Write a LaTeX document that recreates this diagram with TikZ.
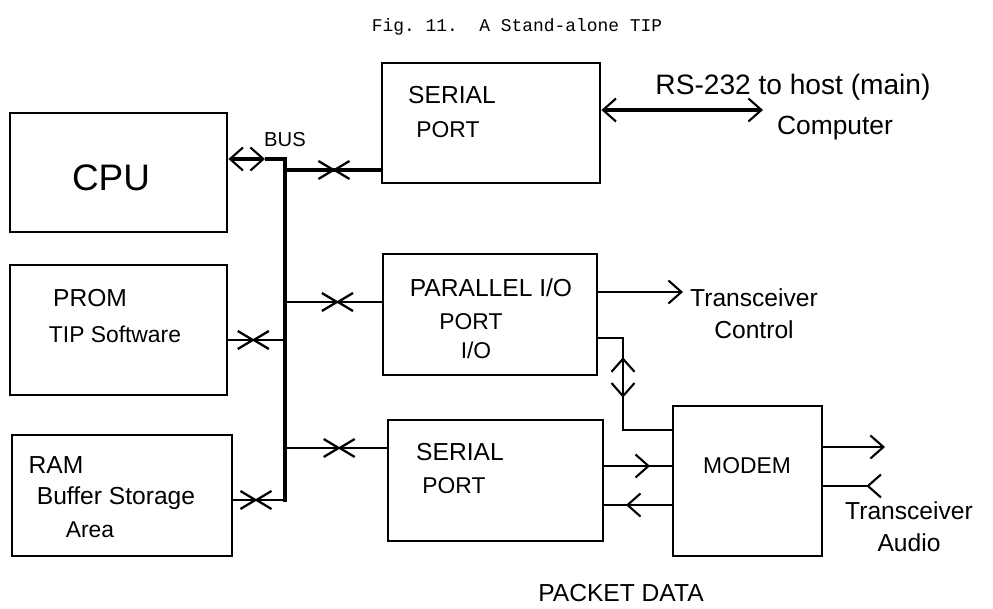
\documentclass[tikz,border=0pt]{standalone}
\usepackage{fontspec}
\setmainfont{Liberation Sans}
\setmonofont{Liberation Mono}
\usepackage{tikz}
\usetikzlibrary{positioning, calc, arrows.meta, decorations.markings}
\tikzset{
    base/.style={
        font=\fontsize{14}{18}\selectfont,
        align=center
    },
    block/.style={
        rectangle,
        draw,
        line width=1.6pt,
        inner sep=0pt
    },
    size/.style 2 args={
        minimum width=#1*0.2mm,
        minimum height=#2*0.2mm
    },
    label/.style={
        base,
        inner sep=1pt
    },
    flow/.style={
        ->,
        line width=1.2pt
    },
    bus/.style={
        line width=1.8pt
    },
    tap/.style={
        line width=1.3pt,
        postaction={decorate},
        decoration={markings,
            mark=at position #1 with {\arrow{Straight Barb[length=3mm,width=3.6mm,line width=1.3pt]}},
            mark=at position #1 with {\arrow[xshift=3mm]{Straight Barb[reversed,length=3mm,width=3.6mm,line width=1.3pt]}}
        }
    },
    tap/.default=0.5,
    midflow/.style={
        line width=1.2pt,
        postaction={decorate},
        decoration={markings,
            mark=at position #1 with {\arrow{>}}
        }
    }
}

\begin{document}
\begin{tikzpicture}[x=0.2mm, y=-0.2mm, >={Straight Barb[length=2.6mm,width=4.6mm,line width=1.2pt]}]
  \useasboundingbox (0,0) rectangle (993,609);

  % Title
  \node[font=\ttfamily\fontsize{10.2}{12}\selectfont] (title) at (517,27) {Fig.\ 11.\ \ A Stand-alone TIP};

  % Blocks
  \node[block, size={217}{119}] (cpu) at (118.5,172.5) {};
  \node[block, size={217}{130}] (prom) at (118.5,330) {};
  \node[block, size={220}{121}] (ram) at (122,495.5) {};
  \node[block, size={218}{120}] (serA) at (491,123) {};
  \node[block, size={214}{121}] (par) at (490,314.5) {};
  \node[block, size={215}{121}] (serB) at (495.5,480.5) {};
  \node[block, size={149}{150}] (modem) at (747.5,481) {};

  % Block texts
  \node[label, font=\fontsize{21}{24}\selectfont] (cpuTxt) at (111,178) {CPU};
  \node[label] (promTxt) at (90,298) {PROM};
  \node[label, font=\fontsize{13}{16}\selectfont] (promSub) at (115,334) {TIP Software};
  \node[label] (ramTxt) at (56,465) {RAM};
  \node[label] (ramSub) at (116,498) {Buffer Storage};
  \node[label, font=\fontsize{13}{16}\selectfont] (ramArea) at (90,530) {Area};
  \node[label] (serATxt) at (452,95) {SERIAL};
  \node[label, font=\fontsize{13}{16}\selectfont] (serAPort) at (448,130) {PORT};
  \node[label] (parTxt) at (491,288) {PARALLEL I/O};
  \node[label, font=\fontsize{13}{16}\selectfont] (parPort) at (471,322) {PORT};
  \node[label, font=\fontsize{13}{16}\selectfont] (parIO) at (476,350) {I/O};
  \node[label] (serBTxt) at (460,452) {SERIAL};
  \node[label, font=\fontsize{13}{16}\selectfont] (serBPort) at (454,486) {PORT};
  \node[label, font=\fontsize{13}{16}\selectfont] (modemTxt) at (747,466) {MODEM};

  % Bus
  \coordinate (cpuTip) at (265,159);
  \coordinate (busTop) at (285,159);
  \coordinate (busBot) at (285,502);
  \coordinate (tapA) at (285,170);
  \coordinate (tapP) at (285,302);
  \coordinate (tapM) at (285,340);
  \coordinate (tapS) at (285,448);
  \coordinate (tapR) at (285,500);
  \draw[bus] (cpuTip) -- (busTop) -- (busBot);
  \draw[bus, <->] (cpu.east |- cpuTip) -- (cpuTip);
  \node[label, font=\fontsize{11.5}{14}\selectfont] (busTxt) at (285,140) {BUS};

  \draw[tap=0.53, line width=2pt] (tapA) -- (tapA -| serA.west);
  \draw[tap=0.56] (tapP) -- (tapP -| par.west);
  \draw[tap=0.47] (tapM -| prom.east) -- (tapM);
  \draw[tap=0.55] (tapS) -- (tapS -| serB.west);
  \draw[tap=0.47] (tapR -| ram.east) -- (tapR);

  % Host link
  \coordinate (hostEnd) at (763,110);
  \draw[<->, line width=2.2pt] (hostEnd -| serA.east) -- (hostEnd);
  \node[label, font=\fontsize{16}{19}\selectfont] (hostTxt) at (793,87) {RS-232 to host (main)};
  \node[label, font=\fontsize{15}{18}\selectfont] (compTxt) at (835,128) {Computer};

  % Transceiver control
  \coordinate (ctlEnd) at (683,292);
  \draw[flow] (ctlEnd -| par.east) -- (ctlEnd);
  \node[label] (ctlTxt) at (754,314) {Transceiver\\Control};

  \coordinate (ctlJog) at (623,338);
  \coordinate (modemIn) at (673,430);
  \draw[line width=1.3pt, postaction={decorate},
        decoration={markings,
            mark=at position 0.36 with {\arrow{<}},
            mark=at position 0.51 with {\arrow{>}}}]
    (ctlJog -| par.east) -- (ctlJog) -- (ctlJog |- modemIn) -- (modemIn -| modem.west);

  % Packet data
  \coordinate (txRow) at (640,466);
  \coordinate (rxRow) at (640,505);
  \draw[midflow=0.68] (txRow -| serB.east) -- (txRow -| modem.west);
  \draw[midflow=0.68] (rxRow -| modem.west) -- (rxRow -| serB.east);
  \node[label] (pktTxt) at (621,593) {PACKET DATA};

  % Transceiver audio
  \coordinate (audOut) at (885,447);
  \coordinate (audIn) at (882,486);
  \draw[flow] (audOut -| modem.east) -- (audOut);
  \draw[flow, -<] (audIn -| modem.east) -- (audIn);
  \node[label] (audTxt) at (909,527) {Transceiver\\Audio};
\end{tikzpicture}
\end{document}
